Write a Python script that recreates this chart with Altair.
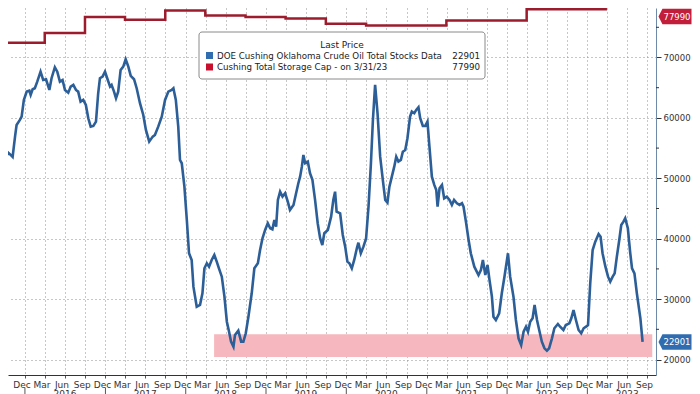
import altair as alt
import pandas as pd

# ---------------- data ----------------
stock_dates = [
    "2015-09-09", "2015-09-22", "2015-10-02", "2015-10-17", "2015-10-28", "2015-11-06", "2015-11-17", "2015-11-24",
    "2015-12-09", "2015-12-17", "2015-12-27", "2016-01-09", "2016-01-21", "2016-01-27", "2016-02-05", "2016-02-15",
    "2016-02-26", "2016-03-12", "2016-03-24", "2016-04-06", "2016-04-21", "2016-05-01", "2016-05-16", "2016-05-27",
    "2016-06-08", "2016-06-20", "2016-07-01", "2016-07-16", "2016-07-27", "2016-08-08", "2016-08-20", "2016-08-30",
    "2016-09-10", "2016-09-22", "2016-10-04", "2016-10-15", "2016-10-26", "2016-11-07", "2016-11-19", "2016-11-29",
    "2016-12-07", "2016-12-19", "2016-12-30", "2017-01-09", "2017-01-22", "2017-01-29", "2017-02-09", "2017-02-18",
    "2017-02-28", "2017-03-11", "2017-03-23", "2017-04-03", "2017-04-15", "2017-04-26", "2017-05-11", "2017-05-23",
    "2017-06-07", "2017-06-22", "2017-07-04", "2017-07-19", "2017-08-04", "2017-08-14", "2017-08-29", "2017-09-14",
    "2017-09-29", "2017-10-14", "2017-10-29", "2017-11-06", "2017-11-17", "2017-11-28", "2017-12-06", "2017-12-14",
    "2017-12-26", "2018-01-06", "2018-01-16", "2018-01-28", "2018-02-05", "2018-02-20", "2018-03-07", "2018-03-18",
    "2018-03-27", "2018-04-07", "2018-04-17", "2018-04-29", "2018-05-11", "2018-05-22", "2018-06-01", "2018-06-14",
    "2018-06-26", "2018-07-07", "2018-07-17", "2018-07-26", "2018-08-06", "2018-08-13", "2018-08-28", "2018-09-10",
    "2018-09-20", "2018-10-01", "2018-10-13", "2018-10-28", "2018-11-09", "2018-11-25", "2018-12-05", "2018-12-16",
    "2018-12-28", "2019-01-09", "2019-01-20", "2019-01-30", "2019-02-08", "2019-02-16", "2019-02-24", "2019-03-06",
    "2019-03-17", "2019-03-29", "2019-04-10", "2019-04-20", "2019-05-06", "2019-05-16", "2019-05-28", "2019-06-05",
    "2019-06-13", "2019-06-20", "2019-06-28", "2019-07-10", "2019-07-20", "2019-07-31", "2019-08-12", "2019-08-24",
    "2019-09-04", "2019-09-14", "2019-09-23", "2019-10-09", "2019-10-24", "2019-11-03", "2019-11-11", "2019-11-18",
    "2019-12-04", "2019-12-16", "2019-12-27", "2020-01-06", "2020-01-15", "2020-01-26", "2020-02-06", "2020-02-18",
    "2020-02-25", "2020-03-07", "2020-03-19", "2020-03-31", "2020-04-11", "2020-04-22", "2020-05-01", "2020-05-11",
    "2020-05-22", "2020-06-03", "2020-06-15", "2020-06-26", "2020-07-06", "2020-07-15", "2020-07-26", "2020-08-06",
    "2020-08-15", "2020-08-25", "2020-09-05", "2020-09-14", "2020-09-25", "2020-10-05", "2020-10-17", "2020-10-25",
    "2020-11-05", "2020-11-14", "2020-11-24", "2020-12-02", "2020-12-14", "2020-12-25", "2021-01-04", "2021-01-13",
    "2021-01-24", "2021-02-04", "2021-02-13", "2021-02-19", "2021-02-28", "2021-03-11", "2021-03-21", "2021-04-02",
    "2021-04-14", "2021-04-25", "2021-05-05", "2021-05-18", "2021-05-30", "2021-06-10", "2021-06-17", "2021-06-29",
    "2021-07-10", "2021-07-20", "2021-08-05", "2021-08-24", "2021-09-04", "2021-09-13", "2021-09-24", "2021-10-04",
    "2021-10-13", "2021-10-24", "2021-10-31", "2021-11-11", "2021-11-26", "2021-12-08", "2021-12-20", "2022-01-05",
    "2022-01-15", "2022-01-30", "2022-02-10", "2022-02-22", "2022-03-06", "2022-03-17", "2022-03-28", "2022-04-06",
    "2022-04-16", "2022-04-27", "2022-05-06", "2022-05-17", "2022-05-27", "2022-06-08", "2022-06-20", "2022-07-01",
    "2022-07-11", "2022-07-24", "2022-08-04", "2022-08-20", "2022-08-30", "2022-09-14", "2022-09-25", "2022-10-11",
    "2022-10-20", "2022-10-30", "2022-11-10", "2022-11-22", "2022-12-04", "2022-12-15", "2022-12-26", "2023-01-04",
    "2023-01-14", "2023-01-25", "2023-02-06", "2023-02-21", "2023-03-02", "2023-03-11", "2023-03-24", "2023-04-05",
    "2023-04-15", "2023-04-26", "2023-05-05", "2023-05-15", "2023-05-26", "2023-06-04", "2023-06-14", "2023-06-22",
    "2023-07-04", "2023-07-15", "2023-07-23", "2023-08-03", "2023-08-14", "2023-08-30", "2023-09-09",
]
stock_values = [
    55850, 53810, 53150, 54250, 53870, 53530, 56900, 58830,
    59660, 60210, 62970, 64350, 64510, 63800, 64740, 64910,
    66000, 67660, 66280, 66400, 64630, 66570, 68390, 67660,
    66000, 66280, 64630, 64180, 65180, 65460, 64630, 64350,
    62690, 62970, 62150, 59940, 58550, 58670, 59380, 64080,
    66570, 66830, 67660, 66570, 65180, 65460, 64350, 63260,
    64350, 67940, 68490, 69710, 68490, 66950, 66400, 64910,
    62430, 60490, 58010, 56070, 56900, 57180, 58550, 60210,
    62970, 64350, 64630, 64910, 62970, 58550, 53030, 52490,
    48620, 43100, 37590, 36480, 32060, 28740, 29030, 30960,
    35100, 35930, 35370, 36480, 37310, 36200, 35100, 33710,
    30400, 26260, 24600, 22950, 22120, 24060, 24770, 22950,
    22950, 24340, 27090, 30960, 35100, 35930, 38130, 40070,
    41450, 42550, 41730, 41560, 43100, 41990, 46410, 47790,
    46960, 47520, 46130, 44760, 45590, 47240, 49180, 50270,
    51930, 53870, 52490, 52760, 50840, 49730, 46420, 42560,
    40070, 38960, 40900, 41450, 43650, 46410, 47790, 44480,
    44210, 40620, 38680, 36200, 35930, 35100, 36480, 38410,
    39340, 37590, 38680, 40070, 45300, 52490, 59660, 65460,
    60770, 53580, 49730, 46410, 45970, 48620, 50270, 51930,
    53580, 52760, 53040, 54410, 54690, 56630, 60210, 61040,
    60770, 61320, 61760, 59940, 58670, 58670, 59380, 55240,
    50270, 48900, 48070, 45300, 48350, 48900, 46690, 46960,
    46410, 45590, 46410, 45870, 45590, 45870, 45300, 42560,
    39790, 37590, 35370, 33990, 34820, 36480, 33990, 35650,
    33170, 30400, 27090, 26540, 27650, 30960, 33710, 37590,
    33710, 30400, 26540, 23510, 22400, 24600, 25430, 24600,
    26260, 26820, 29030, 26540, 24890, 22950, 21850, 21460,
    21850, 23510, 25170, 25880, 25430, 24890, 25710, 25990,
    26820, 28200, 26540, 24890, 24340, 25170, 25430, 25710,
    32620, 38130, 39510, 40780, 40340, 37590, 35370, 33710,
    32880, 33710, 34270, 37020, 39790, 42270, 42820, 43380,
    41730, 37590, 35100, 34270, 30960, 26820, 22901,
]

cap_dates = [
    "2015-03-31", "2015-09-30", "2016-03-31", "2016-09-30", "2017-03-31", "2017-09-30",
    "2018-03-31", "2018-09-30", "2019-03-31", "2019-09-30", "2020-03-31", "2021-03-31",
    "2022-03-31", "2023-03-31",
]
cap_values = [
    70900, 72440, 74050, 76700, 76250, 77790,
    76960, 76700, 76470, 75590, 75310, 76140,
    77990, 77990,
]

stock_name = "DOE Cushing Oklahoma Crude Oil Total Stocks Data"
cap_name = "Cushing Total Storage Cap -  on 3/31/23"
legend_title = "Last Price"

band_start = ["2018-05-10"]
band_end = ["2023-10-23"]
band_low = [20400]
band_high = [24200]

year_labels = ["2016", "2017", "2018", "2019", "2020", "2021", "2022", "2023"]
y_major = [20000, 30000, 40000, 50000, 60000, 70000]
y_minor = [25000, 35000, 45000, 55000, 65000, 75000]

# ---------------- layout / style ----------------
W, H = 648, 367
FONT = "DejaVu Sans"
BLUE_LINE = "#2c5e97"
RED_LINE = "#9c1c2e"
GRID = "#8f8f8f"

x_scale = alt.Scale(
    type="utc",
    domain=[alt.DateTime(year=2015, month=10, date=16, utc=True),
            alt.DateTime(year=2023, month=11, date=9, utc=True)],
)
y_scale = alt.Scale(domain=[17434, 78195], nice=False, zero=False)

quarter_ticks = [alt.DateTime(year=y, month=m, date=1, utc=True)
                 for y in range(2016, 2024) for m in (1, 4, 7, 10)]

x_axis = alt.Axis(
    values=quarter_ticks,
    labelExpr="utcFormat(datum.value - 86400000, '%b')",
    labelOffset=-3.5, labelPadding=2, tickSize=3, tickColor="#555",
    grid=True, gridDash=[1, 3], gridColor=GRID, gridWidth=1,
    domainColor="#333", labelFontSize=9, labelColor="#333", labelFont=FONT,
    labelOverlap=False, labelFlush=False, title=None,
)
y_axis = alt.Axis(
    orient="right", values=y_major, format="d",
    grid=True, gridDash=[1, 3], gridColor=GRID, gridWidth=1,
    tickSize=5, tickColor="#333", domainColor="#6f8aa8",
    labelPadding=2, labelFontSize=8.5, labelColor="#333", labelFont=FONT, title=None,
)

stock_df = pd.DataFrame({"date": stock_dates, "value": stock_values})
cap_df = pd.DataFrame({"date": cap_dates, "value": cap_values})
band_df = pd.DataFrame({"date": band_start, "end": band_end, "value": band_low, "high": band_high})
year_df = pd.DataFrame({"date": [f"{y}-07-01" for y in year_labels], "label": year_labels})
yearsep_df = pd.DataFrame({"date": [f"{y}-01-01" for y in year_labels]})
minor_df = pd.DataFrame({"value": y_minor})
one = pd.DataFrame({"k": [0]})


def X(field="date:T"):
    return alt.X(field, scale=x_scale, axis=x_axis)


def Y(field="value:Q"):
    return alt.Y(field, scale=y_scale, axis=y_axis)


band = alt.Chart(band_df).mark_rect(color="#f6b8be").encode(
    x=X(), x2="end:T", y=Y(), y2="high:Q",
)

stock_line = alt.Chart(stock_df).mark_line(color=BLUE_LINE, strokeWidth=2.6, clip=True).encode(
    x=X(), y=Y(),
)

cap_line = alt.Chart(cap_df).mark_line(
    color=RED_LINE, strokeWidth=2.5, interpolate="step-after", clip=True
).encode(x=X(), y=Y())

minor_ticks = alt.Chart(minor_df).mark_rule(color="#333", strokeWidth=1).encode(
    x=alt.value(W), x2=alt.value(W + 3), y=Y(),
)

year_text = alt.Chart(year_df).mark_text(
    baseline="top", align="center", fontSize=9, color="#333", font=FONT
).encode(x=X(), y=alt.value(H + 15), text="label:N")

year_sep = alt.Chart(yearsep_df).mark_rule(color="#555", strokeWidth=1).encode(
    x=X(), y=alt.value(H + 13), y2=alt.value(H + 30),
)

# legend box
LF = 8.7
leg_box = alt.Chart(one).mark_rect(
    fill="white", stroke="#8a8a8a", strokeWidth=1, cornerRadius=3
).encode(x=alt.value(191), x2=alt.value(477), y=alt.value(24), y2=alt.value(71))
leg_title = alt.Chart(one).mark_text(
    text=legend_title, align="center", baseline="middle", fontSize=9, color="#222", font=FONT
).encode(x=alt.value(334), y=alt.value(37))
sw1 = alt.Chart(one).mark_rect(color="#2f6cb0").encode(
    x=alt.value(198), x2=alt.value(205), y=alt.value(44), y2=alt.value(51))
sw2 = alt.Chart(one).mark_rect(color="#c8102e").encode(
    x=alt.value(198), x2=alt.value(205), y=alt.value(55.5), y2=alt.value(62.5))
lab1 = alt.Chart(one).mark_text(
    text=stock_name, align="left", baseline="middle", fontSize=LF, color="#222", font=FONT
).encode(x=alt.value(209), y=alt.value(47.5))
lab2 = alt.Chart(one).mark_text(
    text=cap_name, align="left", baseline="middle", fontSize=LF, color="#222", font=FONT
).encode(x=alt.value(209), y=alt.value(59))
val1 = alt.Chart(one).mark_text(
    text=str(stock_values[-1]), align="right", baseline="middle", fontSize=LF, color="#222", font=FONT
).encode(x=alt.value(472), y=alt.value(47.5))
val2 = alt.Chart(one).mark_text(
    text=str(cap_values[-1]), align="right", baseline="middle", fontSize=LF, color="#222", font=FONT
).encode(x=alt.value(472), y=alt.value(59))

# value badges on the right axis
badge_path = "M-1,0 L-0.76,-0.47 L1,-0.47 L1,0.47 L-0.76,0.47 Z"
red_df = pd.DataFrame({"value": [cap_values[-1]], "label": [str(cap_values[-1])]})
blue_df = pd.DataFrame({"value": [stock_values[-1]], "label": [str(stock_values[-1])]})
BX = W + 19

red_badge = alt.Chart(red_df).mark_point(
    shape=badge_path, size=1089, filled=True, opacity=1, color="#c21d3b", yOffset=7.3
).encode(x=alt.value(BX), y=Y())
red_text = alt.Chart(red_df).mark_text(
    color="white", fontSize=8.5, align="center", baseline="middle", yOffset=7.3, font=FONT
).encode(x=alt.value(BX + 2), y=Y(), text="label:N")

blue_badge = alt.Chart(blue_df).mark_point(
    shape=badge_path, size=1089, filled=True, opacity=1, color="#2f6cb0"
).encode(x=alt.value(BX), y=Y())
blue_text = alt.Chart(blue_df).mark_text(
    color="white", fontSize=8.5, align="center", baseline="middle", font=FONT
).encode(x=alt.value(BX + 2), y=Y(), text="label:N")

chart = alt.layer(
    band, stock_line, cap_line, minor_ticks, year_sep, year_text,
    leg_box, leg_title, sw1, sw2, lab1, lab2, val1, val2,
    red_badge, red_text, blue_badge, blue_text,
).properties(
    width=W, height=H,
    autosize=alt.AutoSizeParams(type="none"),
    padding={"left": 0, "top": 0, "right": 36, "bottom": 19},
    background="white",
).configure(font=FONT, view=alt.ViewConfig(stroke=None))

chart.save("out.html", embed_options={"renderer": "svg", "actions": False})
